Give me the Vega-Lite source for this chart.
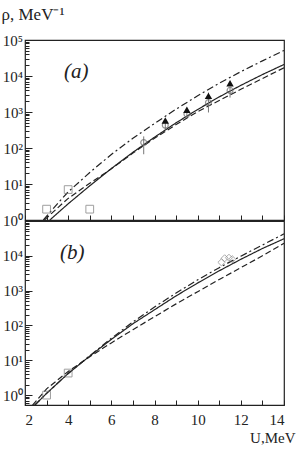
{
  "$schema": "https://vega.github.io/schema/vega-lite/v6.json",
  "padding": {"left": 0, "top": 4, "right": 4, "bottom": 4},
  "background": "white",
  "spacing": 1,
  "bounds": "flush",
  "config": {
    "view": {"stroke": "#222", "strokeWidth": 1.2},
    "axis": {"grid": false, "domain": false, "tickColor": "#222", "labelColor": "#222", "titleColor": "#222", "labelFont": "Liberation Serif", "titleFont": "Liberation Serif", "labelFontSize": 15, "titleFontSize": 15, "titleFontWeight": "normal"}
  },
  "datasets": {
    "curves": [
      {"panel": "a", "model": "solid", "U": 3.15, "rho": 1},
      {"panel": "a", "model": "solid", "U": 4, "rho": 2.82},
      {"panel": "a", "model": "solid", "U": 5, "rho": 8.91},
      {"panel": "a", "model": "solid", "U": 6, "rho": 26.9},
      {"panel": "a", "model": "solid", "U": 7, "rho": 75.9},
      {"panel": "a", "model": "solid", "U": 8, "rho": 199.5},
      {"panel": "a", "model": "solid", "U": 9, "rho": 501},
      {"panel": "a", "model": "solid", "U": 10, "rho": 1175},
      {"panel": "a", "model": "solid", "U": 11, "rho": 2630},
      {"panel": "a", "model": "solid", "U": 12, "rho": 5495},
      {"panel": "a", "model": "solid", "U": 13, "rho": 10965},
      {"panel": "a", "model": "solid", "U": 14, "rho": 20893},
      {"panel": "a", "model": "dashed", "U": 2.9, "rho": 1},
      {"panel": "a", "model": "dashed", "U": 3.5, "rho": 2.14},
      {"panel": "a", "model": "dashed", "U": 4, "rho": 3.98},
      {"panel": "a", "model": "dashed", "U": 5, "rho": 10.5},
      {"panel": "a", "model": "dashed", "U": 6, "rho": 26.3},
      {"panel": "a", "model": "dashed", "U": 7, "rho": 72.4},
      {"panel": "a", "model": "dashed", "U": 8, "rho": 186},
      {"panel": "a", "model": "dashed", "U": 9, "rho": 447},
      {"panel": "a", "model": "dashed", "U": 10, "rho": 1023},
      {"panel": "a", "model": "dashed", "U": 11, "rho": 2089},
      {"panel": "a", "model": "dashed", "U": 12, "rho": 4266},
      {"panel": "a", "model": "dashed", "U": 13, "rho": 8511},
      {"panel": "a", "model": "dashed", "U": 14, "rho": 16982},
      {"panel": "a", "model": "dashdot", "U": 2.85, "rho": 1},
      {"panel": "a", "model": "dashdot", "U": 3.5, "rho": 2.82},
      {"panel": "a", "model": "dashdot", "U": 4, "rho": 6.03},
      {"panel": "a", "model": "dashdot", "U": 5, "rho": 20.9},
      {"panel": "a", "model": "dashdot", "U": 6, "rho": 66.1},
      {"panel": "a", "model": "dashdot", "U": 7, "rho": 186},
      {"panel": "a", "model": "dashdot", "U": 8, "rho": 479},
      {"panel": "a", "model": "dashdot", "U": 9, "rho": 1202},
      {"panel": "a", "model": "dashdot", "U": 10, "rho": 2818},
      {"panel": "a", "model": "dashdot", "U": 11, "rho": 6310},
      {"panel": "a", "model": "dashdot", "U": 12, "rho": 13183},
      {"panel": "a", "model": "dashdot", "U": 13, "rho": 26303},
      {"panel": "a", "model": "dashdot", "U": 14, "rho": 51286},
      {"panel": "b", "model": "solid", "U": 2.45, "rho": 0.513},
      {"panel": "b", "model": "solid", "U": 3, "rho": 1.12},
      {"panel": "b", "model": "solid", "U": 4, "rho": 4.17},
      {"panel": "b", "model": "solid", "U": 5, "rho": 13.2},
      {"panel": "b", "model": "solid", "U": 6, "rho": 39.8},
      {"panel": "b", "model": "solid", "U": 7, "rho": 112},
      {"panel": "b", "model": "solid", "U": 8, "rho": 282},
      {"panel": "b", "model": "solid", "U": 9, "rho": 708},
      {"panel": "b", "model": "solid", "U": 10, "rho": 1660},
      {"panel": "b", "model": "solid", "U": 11, "rho": 3715},
      {"panel": "b", "model": "solid", "U": 12, "rho": 7943},
      {"panel": "b", "model": "solid", "U": 13, "rho": 16218},
      {"panel": "b", "model": "solid", "U": 14, "rho": 30903},
      {"panel": "b", "model": "dashdot", "U": 2.45, "rho": 0.513},
      {"panel": "b", "model": "dashdot", "U": 3, "rho": 1.12},
      {"panel": "b", "model": "dashdot", "U": 4, "rho": 4.17},
      {"panel": "b", "model": "dashdot", "U": 5, "rho": 13.5},
      {"panel": "b", "model": "dashdot", "U": 6, "rho": 42.7},
      {"panel": "b", "model": "dashdot", "U": 7, "rho": 126},
      {"panel": "b", "model": "dashdot", "U": 8, "rho": 339},
      {"panel": "b", "model": "dashdot", "U": 9, "rho": 851},
      {"panel": "b", "model": "dashdot", "U": 10, "rho": 2042},
      {"panel": "b", "model": "dashdot", "U": 11, "rho": 4571},
      {"panel": "b", "model": "dashdot", "U": 12, "rho": 9772},
      {"panel": "b", "model": "dashdot", "U": 13, "rho": 20417},
      {"panel": "b", "model": "dashdot", "U": 14, "rho": 42658},
      {"panel": "b", "model": "dashed", "U": 2.35, "rho": 0.513},
      {"panel": "b", "model": "dashed", "U": 3, "rho": 1.51},
      {"panel": "b", "model": "dashed", "U": 4, "rho": 4.79},
      {"panel": "b", "model": "dashed", "U": 5, "rho": 12.6},
      {"panel": "b", "model": "dashed", "U": 6, "rho": 31.6},
      {"panel": "b", "model": "dashed", "U": 7, "rho": 75.9},
      {"panel": "b", "model": "dashed", "U": 8, "rho": 178},
      {"panel": "b", "model": "dashed", "U": 9, "rho": 417},
      {"panel": "b", "model": "dashed", "U": 10, "rho": 933},
      {"panel": "b", "model": "dashed", "U": 11, "rho": 2089},
      {"panel": "b", "model": "dashed", "U": 12, "rho": 4571},
      {"panel": "b", "model": "dashed", "U": 13, "rho": 10000},
      {"panel": "b", "model": "dashed", "U": 14, "rho": 22909}
    ],
    "points": [
      {"panel": "a", "kind": "square", "U": 3, "rho": 2},
      {"panel": "a", "kind": "square", "U": 4, "rho": 7},
      {"panel": "a", "kind": "square", "U": 5, "rho": 2},
      {"panel": "a", "kind": "circle", "U": 7.5, "rho": 142, "lo": 67, "hi": 210},
      {"panel": "a", "kind": "circle", "U": 8.5, "rho": 430, "lo": 330, "hi": 520},
      {"panel": "a", "kind": "circle", "U": 9.5, "rho": 880, "lo": 700, "hi": 1100},
      {"panel": "a", "kind": "circle", "U": 10.5, "rho": 1820, "lo": 970, "hi": 3470},
      {"panel": "a", "kind": "circle", "U": 11.5, "rho": 3980, "lo": 2510, "hi": 4790},
      {"panel": "a", "kind": "triangle", "U": 8.5, "rho": 580},
      {"panel": "a", "kind": "triangle", "U": 9.5, "rho": 1150},
      {"panel": "a", "kind": "triangle", "U": 10.5, "rho": 2800},
      {"panel": "a", "kind": "triangle", "U": 11.5, "rho": 6300},
      {"panel": "b", "kind": "square", "U": 3, "rho": 1.0},
      {"panel": "b", "kind": "square", "U": 4, "rho": 4.3},
      {"panel": "b", "kind": "diamond", "U": 11.1, "rho": 6500},
      {"panel": "b", "kind": "diamond", "U": 11.25, "rho": 8500},
      {"panel": "b", "kind": "diamond", "U": 11.45, "rho": 8800},
      {"panel": "b", "kind": "diamond", "U": 11.6, "rho": 8000}
    ],
    "labels": [
      {"panel": "a", "text": "(a)", "U": 4.37, "rho": 12600},
      {"panel": "b", "text": "(b)", "U": 4.19, "rho": 11700}
    ]
  },
  "vconcat": [
    {
      "width": 259,
      "height": 180,
      "encoding": {
        "x": {"field": "U", "type": "quantitative", "scale": {"domain": [2, 14], "nice": false, "zero": false},
              "axis": {"values": [2,3,4,5,6,7,8,9,10,11,12,13,14], "labels": false, "title": null, "tickSize": -5}},
        "y": {"field": "rho", "type": "quantitative", "scale": {"type": "log", "domain": [1, 100000], "nice": false},
              "axis": {"values": [1,2,3,4,5,6,7,8,9,10,20,30,40,50,60,70,80,90,100,200,300,400,500,600,700,800,900,1000,2000,3000,4000,5000,6000,7000,8000,9000,10000,20000,30000,40000,50000,60000,70000,80000,90000,100000],
                       "labelExpr": "datum.value==1?'10⁰':datum.value==10?'10¹':datum.value==100?'10²':datum.value==1000?'10³':datum.value==10000?'10⁴':datum.value==100000?'10⁵':''",
                       "tickSize": {"condition": {"test": "datum.value==1||datum.value==10||datum.value==100||datum.value==1000||datum.value==10000||datum.value==100000", "value": -7}, "value": -4},
                       "labelPadding": 9.5,
                       "title": "ρ, MeV⁻¹", "titleFontSize": 17, "titleAngle": 0, "titleAlign": "left", "titleBaseline": "alphabetic", "titleX": -24, "titleY": -21}}
      },
      "layer": [
        {"data": {"name": "curves"}, "transform": [{"filter": "datum.panel=='a'"}],
         "mark": {"type": "line", "clip": true, "color": "#222", "strokeWidth": 1.2},
         "encoding": {"detail": {"field": "model"},
                      "strokeDash": {"field": "model", "type": "nominal", "scale": {"domain": ["solid", "dashed", "dashdot"], "range": [[1, 0], [6, 3], [7, 3, 2, 3]]}, "legend": null}}},
        {"data": {"name": "points"}, "transform": [{"filter": "datum.panel=='a' && datum.kind=='circle'"}],
         "mark": {"type": "rule", "color": "#777", "strokeWidth": 1},
         "encoding": {"y": {"field": "lo", "type": "quantitative"}, "y2": {"field": "hi"}}},
        {"data": {"name": "points"}, "transform": [{"filter": "datum.panel=='a' && datum.kind=='square'"}],
         "mark": {"type": "point", "shape": "square", "filled": false, "color": "#777", "size": 60, "strokeWidth": 1}},
        {"data": {"name": "points"}, "transform": [{"filter": "datum.panel=='a' && datum.kind=='circle'"}],
         "mark": {"type": "point", "shape": "circle", "filled": false, "color": "#666", "size": 35, "strokeWidth": 1.2}},
        {"data": {"name": "points"}, "transform": [{"filter": "datum.panel=='a' && datum.kind=='triangle'"}],
         "mark": {"type": "point", "shape": "triangle-up", "filled": true, "color": "#111", "size": 55, "opacity": 1}},
        {"data": {"name": "labels"}, "transform": [{"filter": "datum.panel=='a'"}],
         "mark": {"type": "text", "font": "Liberation Serif", "fontSize": 21, "fontStyle": "italic", "color": "#222"},
         "encoding": {"text": {"field": "text"}}}
      ]
    },
    {
      "width": 259,
      "height": 184,
      "encoding": {
        "x": {"field": "U", "type": "quantitative", "scale": {"domain": [2, 14], "nice": false, "zero": false},
              "axis": {"values": [2,3,4,5,6,7,8,9,10,11,12,13,14], "labelExpr": "datum.value % 2 == 0 ? datum.label : ''", "tickSize": -5, "labelPadding": 12,
                       "title": "U,MeV", "titleAlign": "right", "titleX": 270, "titleY": 37, "titleBaseline": "alphabetic"}},
        "y": {"field": "rho", "type": "quantitative", "scale": {"type": "log", "domain": [0.52, 100000], "nice": false},
              "axis": {"values": [0.6,0.7,0.8,0.9,1,2,3,4,5,6,7,8,9,10,20,30,40,50,60,70,80,90,100,200,300,400,500,600,700,800,900,1000,2000,3000,4000,5000,6000,7000,8000,9000,10000,20000,30000,40000,50000,60000,70000,80000,90000],
                       "labelExpr": "datum.value==1?'10⁰':datum.value==10?'10¹':datum.value==100?'10²':datum.value==1000?'10³':datum.value==10000?'10⁴':''",
                       "tickSize": {"condition": {"test": "datum.value==1||datum.value==10||datum.value==100||datum.value==1000||datum.value==10000", "value": -7}, "value": -4},
                       "labelPadding": 9.5, "title": null}}
      },
      "layer": [
        {"data": {"name": "curves"}, "transform": [{"filter": "datum.panel=='b'"}],
         "mark": {"type": "line", "clip": true, "color": "#222", "strokeWidth": 1.2},
         "encoding": {"detail": {"field": "model"},
                      "strokeDash": {"field": "model", "type": "nominal", "scale": {"domain": ["solid", "dashed", "dashdot"], "range": [[1, 0], [6, 3], [7, 3, 2, 3]]}, "legend": null}}},
        {"data": {"name": "points"}, "transform": [{"filter": "datum.panel=='b' && datum.kind=='square'"}],
         "mark": {"type": "point", "shape": "square", "filled": false, "color": "#777", "size": 60, "strokeWidth": 1}},
        {"data": {"name": "points"}, "transform": [{"filter": "datum.panel=='b' && datum.kind=='diamond'"}],
         "mark": {"type": "point", "shape": "diamond", "filled": false, "color": "#888", "size": 50, "strokeWidth": 1}},
        {"data": {"name": "labels"}, "transform": [{"filter": "datum.panel=='b'"}],
         "mark": {"type": "text", "font": "Liberation Serif", "fontSize": 21, "fontStyle": "italic", "color": "#222"},
         "encoding": {"text": {"field": "text"}}}
      ]
    }
  ]
}
